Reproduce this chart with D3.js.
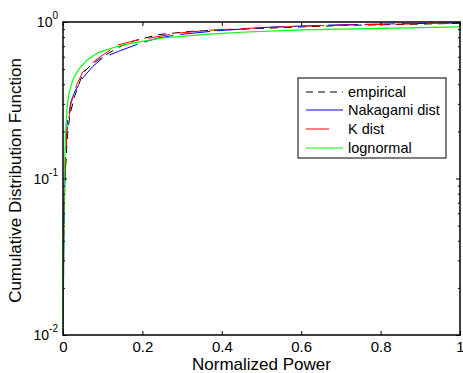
<!DOCTYPE html>
<html>
<head>
<meta charset="utf-8">
<script src="https://cdn.jsdelivr.net/npm/d3@7"></script>
<style>
  body { margin: 0; background: #fff; }
  text { font-family: "Liberation Sans", Arial, sans-serif; }
</style>
</head>
<body>
<div id="chart"></div>
<script>
// data: [normalized power, CDF]
var empirical = [[0.0005, 0.01], [0.002, 0.05], [0.005, 0.1], [0.01, 0.17], [0.013, 0.21], [0.018, 0.26], [0.03, 0.34], [0.05, 0.47], [0.07, 0.53], [0.1, 0.6], [0.14, 0.69], [0.18, 0.76], [0.24, 0.83], [0.32, 0.87], [0.4, 0.89], [0.5, 0.91], [0.6, 0.93], [0.7, 0.95], [0.8, 0.96], [0.9, 0.97], [1.0, 0.98]];
var nakagami = [[0.0005, 0.01], [0.002, 0.04], [0.005, 0.1], [0.01, 0.22], [0.02, 0.31], [0.03, 0.36], [0.05, 0.44], [0.075, 0.52], [0.1, 0.59], [0.14, 0.65], [0.2, 0.74], [0.24, 0.79], [0.29, 0.83], [0.39, 0.88], [0.53, 0.93], [0.7, 0.96], [0.85, 0.975], [1.0, 0.985]];
var kdist = [[0.0005, 0.01], [0.002, 0.05], [0.005, 0.11], [0.01, 0.2], [0.02, 0.3], [0.035, 0.4], [0.05, 0.48], [0.07, 0.54], [0.09, 0.59], [0.136, 0.71], [0.18, 0.76], [0.23, 0.8], [0.29, 0.85], [0.38, 0.89], [0.5, 0.92], [0.6, 0.94], [0.75, 0.96], [0.9, 0.975], [1.0, 0.985]];
var lognormal = [[0.0005, 0.01], [0.002, 0.05], [0.004, 0.12], [0.006, 0.18], [0.01, 0.28], [0.015, 0.35], [0.025, 0.43], [0.04, 0.5], [0.06, 0.57], [0.09, 0.64], [0.13, 0.69], [0.17, 0.73], [0.25, 0.79], [0.35, 0.83], [0.45, 0.86], [0.6, 0.89], [0.8, 0.91], [1.0, 0.93]];

var xTicks = [0, 0.2, 0.4, 0.6, 0.8, 1];
var xTickLabels = ["0", "0.2", "0.4", "0.6", "0.8", "1"];
var yDecades = [0.01, 0.1, 1];
var yExponents = ["-2", "-1", "0"];
var seriesNames = ["empirical", "Nakagami dist", "K dist", "lognormal"];

var W = 463, H = 373;
var margin = { left: 63, right: 3, top: 22, bottom: 38 };
var width = W - margin.left - margin.right;
var height = H - margin.top - margin.bottom;

var xScale = d3.scaleLinear().domain([0, 1]).range([0, width]);
var yScale = d3.scaleLog().domain([0.01, 1]).range([height, 0]);

var svg = d3.select("#chart").append("svg").attr("width", W).attr("height", H);
var g = svg.append("g").attr("transform", "translate(" + margin.left + "," + margin.top + ")");

svg.append("defs").append("clipPath").attr("id", "clip").append("rect")
    .attr("width", width).attr("height", height);

var line = d3.line()
    .x(function (d) { return xScale(d[0]); })
    .y(function (d) { return yScale(d[1]); });

var styles = [
    { data: empirical, color: "#000", dash: "8,6", width: 1 },
    { data: nakagami, color: "#0000ff", dash: "30,7", width: 1 },
    { data: kdist, color: "#ff0000", dash: "22,9", width: 1 },
    { data: lognormal, color: "#00ff00", dash: null, width: 1.2 }
];

var plot = g.append("g").attr("clip-path", "url(#clip)");
styles.forEach(function (s) {
    plot.append("path")
        .attr("fill", "none")
        .attr("stroke", s.color)
        .attr("stroke-width", s.width)
        .attr("stroke-dasharray", s.dash)
        .attr("d", line(s.data));
});

// minor log ticks
var minor = [];
[0.01, 0.1].forEach(function (d) {
    for (var k = 2; k <= 9; k++) minor.push(d * k);
});

// axes
var xAxisB = d3.axisBottom(xScale).tickValues(xTicks).tickSizeInner(-4).tickSizeOuter(0).tickFormat(function (d, i) { return xTickLabels[i]; });
var xAxisT = d3.axisTop(xScale).tickValues(xTicks).tickSizeInner(-4).tickSizeOuter(0).tickFormat("");
var yAxisL = d3.axisLeft(yScale).tickValues(yDecades).tickSizeInner(-4).tickSizeOuter(0).tickFormat("");
var yAxisR = d3.axisRight(yScale).tickValues(yDecades).tickSizeInner(-4).tickSizeOuter(0).tickFormat("");
var yMinorL = d3.axisLeft(yScale).tickValues(minor).tickSizeInner(-2).tickSizeOuter(0).tickFormat("");
var yMinorR = d3.axisRight(yScale).tickValues(minor).tickSizeInner(-2).tickSizeOuter(0).tickFormat("");

var gx = g.append("g").attr("transform", "translate(0," + height + ")").call(xAxisB);
gx.selectAll("text").attr("dy", null).attr("y", 17).style("font-size", "15px").attr("fill", "#000");
g.append("g").call(xAxisT);
g.append("g").call(yAxisL);
g.append("g").call(yMinorL);
g.append("g").attr("transform", "translate(" + width + ",0)").call(yAxisR);
g.append("g").attr("transform", "translate(" + width + ",0)").call(yMinorR);
g.selectAll(".domain").remove();
g.selectAll(".tick line").attr("stroke", "#000");

g.append("rect")
    .attr("width", width).attr("height", height)
    .attr("fill", "none").attr("stroke", "#000").attr("stroke-width", 1.5);

// y decade labels 10^n
yDecades.forEach(function (d, i) {
    var t = g.append("text")
        .attr("x", -5)
        .attr("y", yScale(d) + 5)
        .attr("text-anchor", "end")
        .style("font-size", "14px");
    t.append("tspan").text("10");
    t.append("tspan").attr("dy", -8).style("font-size", "10px").text(yExponents[i]);
});

// axis labels
svg.append("text")
    .attr("x", margin.left + width / 2)
    .attr("y", 370)
    .attr("text-anchor", "middle")
    .style("font-size", "17px")
    .text("Normalized Power");

svg.append("text")
    .attr("transform", "translate(21," + (margin.top + height / 2 + 2) + ") rotate(-90)")
    .attr("text-anchor", "middle")
    .style("font-size", "17px")
    .text("Cumulative Distribution Function");

// legend
var lg = svg.append("g").attr("transform", "translate(298,78)");
lg.append("rect").attr("width", 148).attr("height", 80)
    .attr("fill", "#fff").attr("stroke", "#000").attr("stroke-width", 1);
var legendY = [14, 32, 51, 70];
var sampleLen = [37, 37, 23, 37];
seriesNames.forEach(function (name, i) {
    var s = styles[i];
    lg.append("line")
        .attr("x1", 8).attr("x2", 8 + sampleLen[i])
        .attr("y1", legendY[i]).attr("y2", legendY[i])
        .attr("stroke", s.color)
        .attr("stroke-width", 1)
        .attr("stroke-dasharray", i === 0 ? "7,5" : null);
    lg.append("text")
        .attr("x", 50)
        .attr("y", legendY[i] + 5)
        .style("font-size", "14.5px")
        .text(name);
});
</script>
</body>
</html>
